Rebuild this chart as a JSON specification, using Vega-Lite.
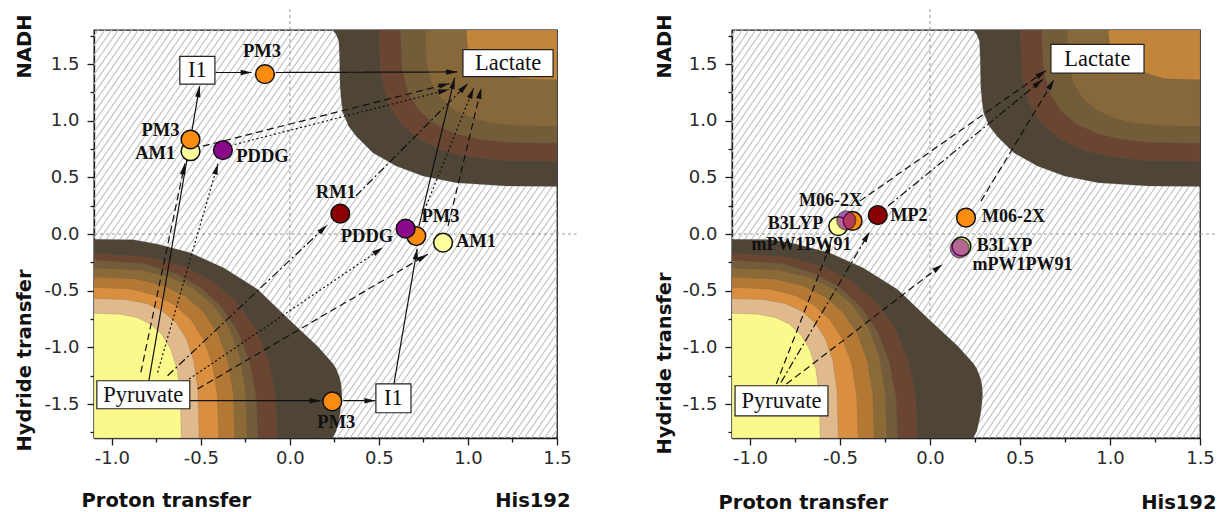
{
  "$schema": "https://vega.github.io/schema/vega-lite/v6.json",
  "background": "white",
  "padding": {"left": 13, "top": 7, "right": 0, "bottom": 0},
  "datasets": {
    "hatch": [{"x": -1.3, "y": 1.9, "x2": 1.8, "y2": -1.5}],
    "zero": [{"x": 0, "x2": 0, "y": -1.8, "y2": 1.99}, {"x": -1.1, "x2": 1.61, "y": 0, "y2": 0}],
    "contours": [
      {"b": "a", "x": -1.1, "y": -0.047, "y2": -1.8}, {"b": "a", "x": -0.88, "y": -0.05, "y2": -1.8}, {"b": "a", "x": -0.74, "y": -0.09, "y2": -1.8}, {"b": "a", "x": -0.56, "y": -0.165, "y2": -1.8}, {"b": "a", "x": -0.37, "y": -0.30, "y2": -1.8}, {"b": "a", "x": -0.18, "y": -0.49, "y2": -1.8}, {"b": "a", "x": 0.005, "y": -0.77, "y2": -1.8}, {"b": "a", "x": 0.155, "y": -0.99, "y2": -1.8}, {"b": "a", "x": 0.24, "y": -1.14, "y2": -1.8}, {"b": "a", "x": 0.26, "y": -1.19, "y2": -1.74}, {"b": "a", "x": 0.28, "y": -1.27, "y2": -1.6}, {"b": "a", "x": 0.288, "y": -1.33, "y2": -1.5}, {"b": "a", "x": 0.292, "y": -1.41, "y2": -1.42},
      {"b": "b", "x": -1.1, "y": -0.17, "y2": -1.8}, {"b": "b", "x": -0.791, "y": -0.203, "y2": -1.8}, {"b": "b", "x": -0.585, "y": -0.292, "y2": -1.8}, {"b": "b", "x": -0.43, "y": -0.419, "y2": -1.8}, {"b": "b", "x": -0.297, "y": -0.602, "y2": -1.8}, {"b": "b", "x": -0.194, "y": -0.83, "y2": -1.8}, {"b": "b", "x": -0.122, "y": -1.101, "y2": -1.8}, {"b": "b", "x": -0.08, "y": -1.428, "y2": -1.8}, {"b": "b", "x": -0.07, "y": -1.8, "y2": -1.8},
      {"b": "c", "x": -1.1, "y": -0.23, "y2": -1.8}, {"b": "c", "x": -0.824, "y": -0.261, "y2": -1.8}, {"b": "c", "x": -0.64, "y": -0.348, "y2": -1.8}, {"b": "c", "x": -0.502, "y": -0.47, "y2": -1.8}, {"b": "c", "x": -0.382, "y": -0.646, "y2": -1.8}, {"b": "c", "x": -0.29, "y": -0.866, "y2": -1.8}, {"b": "c", "x": -0.226, "y": -1.126, "y2": -1.8}, {"b": "c", "x": -0.189, "y": -1.442, "y2": -1.8}, {"b": "c", "x": -0.18, "y": -1.8, "y2": -1.8},
      {"b": "d", "x": -1.1, "y": -0.3, "y2": -1.8}, {"b": "d", "x": -0.842, "y": -0.318, "y2": -1.8}, {"b": "d", "x": -0.67, "y": -0.381, "y2": -1.8}, {"b": "d", "x": -0.541, "y": -0.478, "y2": -1.8}, {"b": "d", "x": -0.429, "y": -0.628, "y2": -1.8}, {"b": "d", "x": -0.343, "y": -0.823, "y2": -1.8}, {"b": "d", "x": -0.283, "y": -1.068, "y2": -1.8}, {"b": "d", "x": -0.249, "y": -1.383, "y2": -1.8}, {"b": "d", "x": -0.24, "y": -1.8, "y2": -1.8},
      {"b": "e", "x": -1.1, "y": -0.38, "y2": -1.8}, {"b": "e", "x": -0.863, "y": -0.397, "y2": -1.8}, {"b": "e", "x": -0.705, "y": -0.457, "y2": -1.8}, {"b": "e", "x": -0.587, "y": -0.549, "y2": -1.8}, {"b": "e", "x": -0.484, "y": -0.691, "y2": -1.8}, {"b": "e", "x": -0.405, "y": -0.876, "y2": -1.8}, {"b": "e", "x": -0.35, "y": -1.107, "y2": -1.8}, {"b": "e", "x": -0.318, "y": -1.405, "y2": -1.8}, {"b": "e", "x": -0.31, "y": -1.8, "y2": -1.8},
      {"b": "f", "x": -1.1, "y": -0.47, "y2": -1.8}, {"b": "f", "x": -0.89, "y": -0.486, "y2": -1.8}, {"b": "f", "x": -0.75, "y": -0.542, "y2": -1.8}, {"b": "f", "x": -0.645, "y": -0.628, "y2": -1.8}, {"b": "f", "x": -0.554, "y": -0.761, "y2": -1.8}, {"b": "f", "x": -0.484, "y": -0.934, "y2": -1.8}, {"b": "f", "x": -0.435, "y": -1.151, "y2": -1.8}, {"b": "f", "x": -0.407, "y": -1.43, "y2": -1.8}, {"b": "f", "x": -0.4, "y": -1.8, "y2": -1.8},
      {"b": "g", "x": -1.1, "y": -0.57, "y2": -1.8}, {"b": "g", "x": -0.923, "y": -0.579, "y2": -1.8}, {"b": "g", "x": -0.805, "y": -0.613, "y2": -1.8}, {"b": "g", "x": -0.717, "y": -0.677, "y2": -1.8}, {"b": "g", "x": -0.64, "y": -0.78, "y2": -1.8}, {"b": "g", "x": -0.581, "y": -0.925, "y2": -1.8}, {"b": "g", "x": -0.54, "y": -1.119, "y2": -1.8}, {"b": "g", "x": -0.516, "y": -1.382, "y2": -1.8}, {"b": "g", "x": -0.51, "y": -1.8, "y2": -1.8},
      {"b": "h", "x": -1.1, "y": -0.7, "y2": -1.8}, {"b": "h", "x": -0.953, "y": -0.708, "y2": -1.8}, {"b": "h", "x": -0.855, "y": -0.739, "y2": -1.8}, {"b": "h", "x": -0.782, "y": -0.796, "y2": -1.8}, {"b": "h", "x": -0.718, "y": -0.888, "y2": -1.8}, {"b": "h", "x": -0.669, "y": -1.018, "y2": -1.8}, {"b": "h", "x": -0.634, "y": -1.191, "y2": -1.8}, {"b": "h", "x": -0.615, "y": -1.426, "y2": -1.8}, {"b": "h", "x": -0.61, "y": -1.8, "y2": -1.8},
      {"b": "i", "x": 0.24, "y": 1.8, "y2": 1.8}, {"b": "i", "x": 0.26, "y": 1.76, "y2": 1.8}, {"b": "i", "x": 0.275, "y": 1.7, "y2": 1.8}, {"b": "i", "x": 0.279, "y": 1.55, "y2": 1.8}, {"b": "i", "x": 0.282, "y": 1.3, "y2": 1.8}, {"b": "i", "x": 0.29, "y": 1.16, "y2": 1.8}, {"b": "i", "x": 0.298, "y": 1.07, "y2": 1.8}, {"b": "i", "x": 0.33, "y": 0.95, "y2": 1.8}, {"b": "i", "x": 0.373, "y": 0.863, "y2": 1.8}, {"b": "i", "x": 0.466, "y": 0.716, "y2": 1.8}, {"b": "i", "x": 0.597, "y": 0.599, "y2": 1.8}, {"b": "i", "x": 0.747, "y": 0.511, "y2": 1.8}, {"b": "i", "x": 0.934, "y": 0.452, "y2": 1.8}, {"b": "i", "x": 1.215, "y": 0.423, "y2": 1.8}, {"b": "i", "x": 1.5, "y": 0.42, "y2": 1.8},
      {"b": "j", "x": 0.5, "y": 1.8, "y2": 1.8}, {"b": "j", "x": 0.51, "y": 1.406, "y2": 1.8}, {"b": "j", "x": 0.55, "y": 1.157, "y2": 1.8}, {"b": "j", "x": 0.62, "y": 0.975, "y2": 1.8}, {"b": "j", "x": 0.72, "y": 0.838, "y2": 1.8}, {"b": "j", "x": 0.85, "y": 0.741, "y2": 1.8}, {"b": "j", "x": 1.0, "y": 0.681, "y2": 1.8}, {"b": "j", "x": 1.2, "y": 0.648, "y2": 1.8}, {"b": "j", "x": 1.5, "y": 0.64, "y2": 1.8},
      {"b": "k", "x": 0.62, "y": 1.8, "y2": 1.8}, {"b": "k", "x": 0.629, "y": 1.46, "y2": 1.8}, {"b": "k", "x": 0.664, "y": 1.246, "y2": 1.8}, {"b": "k", "x": 0.726, "y": 1.089, "y2": 1.8}, {"b": "k", "x": 0.814, "y": 0.971, "y2": 1.8}, {"b": "k", "x": 0.928, "y": 0.887, "y2": 1.8}, {"b": "k", "x": 1.06, "y": 0.835, "y2": 1.8}, {"b": "k", "x": 1.236, "y": 0.807, "y2": 1.8}, {"b": "k", "x": 1.5, "y": 0.8, "y2": 1.8},
      {"b": "l", "x": 0.76, "y": 1.8, "y2": 1.8}, {"b": "l", "x": 0.767, "y": 1.511, "y2": 1.8}, {"b": "l", "x": 0.797, "y": 1.329, "y2": 1.8}, {"b": "l", "x": 0.849, "y": 1.196, "y2": 1.8}, {"b": "l", "x": 0.923, "y": 1.095, "y2": 1.8}, {"b": "l", "x": 1.019, "y": 1.024, "y2": 1.8}, {"b": "l", "x": 1.13, "y": 0.98, "y2": 1.8}, {"b": "l", "x": 1.278, "y": 0.956, "y2": 1.8}, {"b": "l", "x": 1.5, "y": 0.95, "y2": 1.8},
      {"b": "m", "x": 0.99, "y": 1.8, "y2": 1.8}, {"b": "m", "x": 1.0, "y": 1.62, "y2": 1.8}, {"b": "m", "x": 1.1, "y": 1.5, "y2": 1.8}, {"b": "m", "x": 1.2, "y": 1.42, "y2": 1.8}, {"b": "m", "x": 1.3, "y": 1.37, "y2": 1.8}, {"b": "m", "x": 1.5, "y": 1.36, "y2": 1.8}
    ],
    "arrowsL": [
      {"x": -0.792, "y": -1.295, "x2": -0.507, "y2": 1.304, "s": "solid"},
      {"x": -0.416, "y": 1.425, "x2": -0.215, "y2": 1.425, "s": "solid"},
      {"x": -0.08, "y": 1.425, "x2": 0.94, "y2": 1.43, "s": "solid"},
      {"x": -0.562, "y": -1.471, "x2": 0.172, "y2": -1.471, "s": "solid"},
      {"x": 0.3, "y": -1.471, "x2": 0.48, "y2": -1.471, "s": "solid"},
      {"x": 0.584, "y": -1.324, "x2": 0.715, "y2": -0.13, "s": "solid"},
      {"x": 0.725, "y": 0.07, "x2": 0.925, "y2": 1.377, "s": "solid"},
      {"x": -0.837, "y": -1.222, "x2": -0.59, "y2": 0.62, "s": "dashed"},
      {"x": -0.743, "y": -1.222, "x2": -0.404, "y2": 0.62, "s": "dotted"},
      {"x": -0.687, "y": -1.251, "x2": 0.21, "y2": 0.08, "s": "dashdot"},
      {"x": -0.566, "y": -1.28, "x2": 0.522, "y2": -0.12, "s": "dotted"},
      {"x": -0.519, "y": -1.368, "x2": 0.775, "y2": -0.179, "s": "dashed"},
      {"x": -0.489, "y": 0.775, "x2": 0.897, "y2": 1.328, "s": "dashed"},
      {"x": -0.31, "y": 0.79, "x2": 0.893, "y2": 1.275, "s": "dotted"},
      {"x": 0.37, "y": 0.335, "x2": 1.0, "y2": 1.328, "s": "dashdot"},
      {"x": 0.747, "y": 0.176, "x2": 1.032, "y2": 1.289, "s": "dotted"},
      {"x": 0.888, "y": 0.07, "x2": 1.075, "y2": 1.289, "s": "dashed"}
    ],
    "arrowsR": [
      {"x": -0.854, "y": -1.324, "x2": -0.55, "y2": -0.08, "s": "dashed"},
      {"x": -0.828, "y": -1.31, "x2": -0.335, "y2": 0.02, "s": "dashdot"},
      {"x": -0.798, "y": -1.324, "x2": 0.07, "y2": -0.267, "s": "dashed"},
      {"x": -0.39, "y": 0.29, "x2": 0.644, "y2": 1.442, "s": "dashed"},
      {"x": -0.233, "y": 0.247, "x2": 0.626, "y2": 1.363, "s": "dashdot"},
      {"x": 0.283, "y": 0.29, "x2": 0.69, "y2": 1.363, "s": "dashed"}
    ],
    "boxesL": [
      {"x": 0.972, "x2": 1.478, "y": 1.388, "y2": 1.626, "cx": 1.225, "cy": 1.507, "t": "Lactate"},
      {"x": -1.084, "x2": -0.562, "y": -1.542, "y2": -1.295, "cx": -0.823, "cy": -1.418, "t": "Pyruvate"},
      {"x": -0.618, "x2": -0.421, "y": 1.322, "y2": 1.568, "cx": -0.52, "cy": 1.445, "t": "I1"},
      {"x": 0.483, "x2": 0.68, "y": -1.577, "y2": -1.322, "cx": 0.581, "cy": -1.449, "t": "I1"}
    ],
    "boxesR": [
      {"x": 0.672, "x2": 1.189, "y": 1.419, "y2": 1.674, "cx": 0.93, "cy": 1.546, "t": "Lactate"},
      {"x": -1.083, "x2": -0.567, "y": -1.604, "y2": -1.339, "cx": -0.825, "cy": -1.471, "t": "Pyruvate"}
    ],
    "ptsL": [
      {"x": -0.558, "y": 0.73, "m": "AM1"}, {"x": -0.558, "y": 0.834, "m": "PM3"}, {"x": -0.376, "y": 0.74, "m": "PDDG"},
      {"x": -0.14, "y": 1.41, "m": "PM3"}, {"x": 0.283, "y": 0.179, "m": "RM1"}, {"x": 0.71, "y": -0.018, "m": "PM3"},
      {"x": 0.65, "y": 0.047, "m": "PDDG"}, {"x": 0.86, "y": -0.077, "m": "AM1"}, {"x": 0.238, "y": -1.477, "m": "PM3"}
    ],
    "ptsR": [
      {"x": -0.51, "y": 0.07, "m": "B3LYP"}, {"x": -0.43, "y": 0.115, "m": "M06-2X"}, {"x": -0.465, "y": 0.12, "m": "mPW1PW91"},
      {"x": -0.29, "y": 0.167, "m": "MP2"}, {"x": 0.175, "y": -0.11, "m": "B3LYP"}, {"x": 0.2, "y": 0.144, "m": "M06-2X"},
      {"x": 0.165, "y": -0.126, "m": "mPW1PW91"}
    ],
    "labelsL": [
      {"x": -0.157, "y": 1.612, "t": "PM3"}, {"x": -0.727, "y": 0.921, "t": "PM3"}, {"x": -0.756, "y": 0.718, "t": "AM1"},
      {"x": -0.154, "y": 0.687, "t": "PDDG"}, {"x": 0.258, "y": 0.37, "t": "RM1"}, {"x": 0.433, "y": -0.018, "t": "PDDG"},
      {"x": 0.846, "y": 0.159, "t": "PM3"}, {"x": 1.045, "y": -0.066, "t": "AM1"}, {"x": 0.261, "y": -1.66, "t": "PM3"}
    ],
    "labelsR": [
      {"x": -0.553, "y": 0.291, "t": "M06-2X"}, {"x": -0.747, "y": 0.084, "t": "B3LYP"}, {"x": -0.714, "y": -0.101, "t": "mPW1PW91"},
      {"x": -0.117, "y": 0.159, "t": "MP2"}, {"x": 0.464, "y": 0.154, "t": "M06-2X"}, {"x": 0.414, "y": -0.105, "t": "B3LYP"},
      {"x": 0.514, "y": -0.275, "t": "mPW1PW91"}
    ]
  },
  "hconcat": [
    {
      "width": 463, "height": 408,
      "layer": [
        {"data": {"name": "hatch"},
         "mark": {"type": "rule", "clip": true, "stroke": "#c4c4c4", "strokeWidth": 760, "strokeDash": [1.2, 4.3], "strokeCap": "butt"},
         "encoding": {
           "x": {"field": "x", "type": "quantitative", "scale": {"domain": [-1.1, 1.5], "nice": false, "zero": false},
                 "axis": {"values": [-1, -0.5, 0, 0.5, 1, 1.5], "tickSize": 7, "labelPadding": 4, "labelFlush": false, "labelOverlap": false,
                          "labelExpr": "datum.value < 0 ? '-' + format(-datum.value, '.1f') : format(datum.value, '.1f')",
                          "title": "Proton transfer", "titleX": -13, "titleY": 68, "titleAlign": "left", "titleBaseline": "alphabetic"}},
           "y": {"field": "y", "type": "quantitative", "scale": {"domain": [-1.8, 1.8], "nice": false, "zero": false},
                 "axis": {"values": [-1.5, -1, -0.5, 0, 0.5, 1, 1.5], "tickSize": 7, "labelPadding": 8, "labelFlush": false, "labelOverlap": false,
                          "labelExpr": "datum.value < 0 ? '-' + format(-datum.value, '.1f') : format(datum.value, '.1f')",
                          "title": "Hydride transfer", "titleX": -64, "titleY": 421, "titleAlign": "left", "titleAngle": -90, "titleBaseline": "alphabetic"}},
           "x2": {"field": "x2"}, "y2": {"field": "y2"}}},
        {"data": {"name": "zero"},
         "mark": {"type": "rule", "stroke": "#8c8c8c", "strokeWidth": 0.9, "strokeDash": [3, 3]},
         "encoding": {
           "x": {"field": "x", "type": "quantitative", "scale": {"domain": [-1.1, 1.5], "nice": false, "zero": false},
                 "axis": {"orient": "bottom", "values": [-0.75, -0.25, 0.25, 0.75, 1.25], "tickSize": 4, "labels": false, "domain": false,
                          "title": "His192", "titleX": 476, "titleY": 68, "titleAlign": "right", "titleBaseline": "alphabetic"}},
           "y": {"field": "y", "type": "quantitative", "scale": {"domain": [-1.8, 1.8], "nice": false, "zero": false},
                 "axis": {"orient": "left", "values": [-1.75, -1.25, -0.75, -0.25, 0.25, 0.75, 1.25, 1.75], "tickSize": 4, "labels": false, "domain": false,
                          "title": "NADH", "titleX": -64, "titleY": -16, "titleAlign": "right", "titleAngle": -90, "titleBaseline": "alphabetic"}},
           "x2": {"field": "x2"}, "y2": {"field": "y2"}}},
        {"data": {"name": "contours"},
         "mark": {"type": "area", "orient": "vertical", "stroke": "#5a5a5a", "strokeWidth": 0.4, "strokeOpacity": 0.5},
         "encoding": {
           "x": {"field": "x", "type": "quantitative", "axis": null},
           "y": {"field": "y", "type": "quantitative", "axis": null, "stack": null},
           "y2": {"field": "y2"},
           "color": {"field": "b", "type": "nominal", "legend": null,
                     "scale": {"domain": ["a","b","c","d","e","f","g","h","i","j","k","l","m"],
                               "range": ["#4e4536","#6a4632","#725c39","#8b6a38","#b47835","#d98f3f","#e0b98d","#fbf98b","#4e4536","#6a4632","#735d39","#87683a","#c2853a"]}}}},
        {"data": {"name": "arrowsL"},
         "mark": {"type": "rule", "stroke": "#111", "strokeWidth": 1.2},
         "encoding": {
           "x": {"field": "x", "type": "quantitative", "axis": null}, "y": {"field": "y", "type": "quantitative", "axis": null},
           "x2": {"field": "x2"}, "y2": {"field": "y2"},
           "strokeDash": {"field": "s", "type": "nominal", "legend": null,
                          "scale": {"domain": ["solid","dashed","dotted","dashdot"], "range": [[1,0],[7,4],[2,2.5],[8,3,2,3]]}}}},
        {"data": {"name": "arrowsL"},
         "transform": [{"calculate": "atan2((datum.x2 - datum.x) * 178.1, (datum.y2 - datum.y) * 113.3) * 180 / PI", "as": "ang"}],
         "mark": {"type": "point", "shape": "M0,0L0.5,2L-0.5,2Z", "filled": true, "color": "#111", "size": 120, "opacity": 1},
         "encoding": {
           "x": {"field": "x2", "type": "quantitative", "axis": null}, "y": {"field": "y2", "type": "quantitative", "axis": null},
           "angle": {"field": "ang", "type": "quantitative", "scale": null}}},
        {"data": {"name": "boxesL"},
         "mark": {"type": "rect", "fill": "white", "stroke": "#222", "strokeWidth": 1.2},
         "encoding": {
           "x": {"field": "x", "type": "quantitative", "axis": null}, "y": {"field": "y", "type": "quantitative", "axis": null},
           "x2": {"field": "x2"}, "y2": {"field": "y2"}}},
        {"data": {"name": "boxesL"},
         "mark": {"type": "text", "font": "Liberation Serif", "fontSize": 22.5, "color": "#111", "align": "center", "baseline": "middle"},
         "encoding": {
           "x": {"field": "cx", "type": "quantitative", "axis": null}, "y": {"field": "cy", "type": "quantitative", "axis": null},
           "text": {"field": "t"}}},
        {"data": {"name": "ptsL"},
         "mark": {"type": "point", "shape": "circle", "filled": true, "size": 350, "stroke": "#111", "strokeWidth": 1.5, "opacity": 1},
         "encoding": {
           "x": {"field": "x", "type": "quantitative", "axis": null}, "y": {"field": "y", "type": "quantitative", "axis": null},
           "fill": {"field": "m", "type": "nominal", "legend": null,
                    "scale": {"domain": ["AM1","PM3","PDDG","RM1"], "range": ["#ffff9e","#fb8c10","#8b0a8b","#8b0000"]}}}},
        {"data": {"name": "labelsL"},
         "mark": {"type": "text", "font": "Liberation Serif", "fontWeight": "bold", "fontSize": 18.5, "color": "#111", "align": "center", "baseline": "middle"},
         "encoding": {
           "x": {"field": "x", "type": "quantitative", "axis": null}, "y": {"field": "y", "type": "quantitative", "axis": null},
           "text": {"field": "t"}}}
      ],
      "resolve": {"axis": {"x": "independent", "y": "independent"}}
    },
    {
      "width": 468, "height": 408,
      "layer": [
        {"data": {"name": "hatch"},
         "mark": {"type": "rule", "clip": true, "stroke": "#c4c4c4", "strokeWidth": 760, "strokeDash": [1.2, 4.3], "strokeCap": "butt"},
         "encoding": {
           "x": {"field": "x", "type": "quantitative", "scale": {"domain": [-1.1, 1.5], "nice": false, "zero": false},
                 "axis": {"values": [-1, -0.5, 0, 0.5, 1, 1.5], "tickSize": 7, "labelPadding": 4, "labelFlush": false, "labelOverlap": false,
                          "labelExpr": "datum.value < 0 ? '-' + format(-datum.value, '.1f') : format(datum.value, '.1f')",
                          "title": "Proton transfer", "titleX": -14, "titleY": 70, "titleAlign": "left", "titleBaseline": "alphabetic"}},
           "y": {"field": "y", "type": "quantitative", "scale": {"domain": [-1.8, 1.8], "nice": false, "zero": false},
                 "axis": {"values": [-1.5, -1, -0.5, 0, 0.5, 1, 1.5], "tickSize": 7, "labelPadding": 8, "labelFlush": false, "labelOverlap": false,
                          "labelExpr": "datum.value < 0 ? '-' + format(-datum.value, '.1f') : format(datum.value, '.1f')",
                          "title": "Hydride transfer", "titleX": -62, "titleY": 424, "titleAlign": "left", "titleAngle": -90, "titleBaseline": "alphabetic"}},
           "x2": {"field": "x2"}, "y2": {"field": "y2"}}},
        {"data": {"name": "zero"},
         "mark": {"type": "rule", "stroke": "#8c8c8c", "strokeWidth": 0.9, "strokeDash": [3, 3]},
         "encoding": {
           "x": {"field": "x", "type": "quantitative", "scale": {"domain": [-1.1, 1.5], "nice": false, "zero": false},
                 "axis": {"orient": "bottom", "values": [-0.75, -0.25, 0.25, 0.75, 1.25], "tickSize": 4, "labels": false, "domain": false,
                          "title": "His192", "titleX": 484, "titleY": 70, "titleAlign": "right", "titleBaseline": "alphabetic"}},
           "y": {"field": "y", "type": "quantitative", "scale": {"domain": [-1.8, 1.8], "nice": false, "zero": false},
                 "axis": {"orient": "left", "values": [-1.75, -1.25, -0.75, -0.25, 0.25, 0.75, 1.25, 1.75], "tickSize": 4, "labels": false, "domain": false,
                          "title": "NADH", "titleX": -62, "titleY": -16, "titleAlign": "right", "titleAngle": -90, "titleBaseline": "alphabetic"}},
           "x2": {"field": "x2"}, "y2": {"field": "y2"}}},
        {"data": {"name": "contours"},
         "mark": {"type": "area", "orient": "vertical", "stroke": "#5a5a5a", "strokeWidth": 0.4, "strokeOpacity": 0.5},
         "encoding": {
           "x": {"field": "x", "type": "quantitative", "axis": null},
           "y": {"field": "y", "type": "quantitative", "axis": null, "stack": null},
           "y2": {"field": "y2"},
           "color": {"field": "b", "type": "nominal", "legend": null,
                     "scale": {"domain": ["a","b","c","d","e","f","g","h","i","j","k","l","m"],
                               "range": ["#4e4536","#6a4632","#725c39","#8b6a38","#b47835","#d98f3f","#e0b98d","#fbf98b","#4e4536","#6a4632","#735d39","#87683a","#c2853a"]}}}},
        {"data": {"name": "arrowsR"},
         "mark": {"type": "rule", "stroke": "#111", "strokeWidth": 1.2},
         "encoding": {
           "x": {"field": "x", "type": "quantitative", "axis": null}, "y": {"field": "y", "type": "quantitative", "axis": null},
           "x2": {"field": "x2"}, "y2": {"field": "y2"},
           "strokeDash": {"field": "s", "type": "nominal", "legend": null,
                          "scale": {"domain": ["solid","dashed","dotted","dashdot"], "range": [[1,0],[7,4],[2,2.5],[8,3,2,3]]}}}},
        {"data": {"name": "arrowsR"},
         "transform": [{"calculate": "atan2((datum.x2 - datum.x) * 180, (datum.y2 - datum.y) * 113.3) * 180 / PI", "as": "ang"}],
         "mark": {"type": "point", "shape": "M0,0L0.5,2L-0.5,2Z", "filled": true, "color": "#111", "size": 120, "opacity": 1},
         "encoding": {
           "x": {"field": "x2", "type": "quantitative", "axis": null}, "y": {"field": "y2", "type": "quantitative", "axis": null},
           "angle": {"field": "ang", "type": "quantitative", "scale": null}}},
        {"data": {"name": "boxesR"},
         "mark": {"type": "rect", "fill": "white", "stroke": "#222", "strokeWidth": 1.2},
         "encoding": {
           "x": {"field": "x", "type": "quantitative", "axis": null}, "y": {"field": "y", "type": "quantitative", "axis": null},
           "x2": {"field": "x2"}, "y2": {"field": "y2"}}},
        {"data": {"name": "boxesR"},
         "mark": {"type": "text", "font": "Liberation Serif", "fontSize": 22.5, "color": "#111", "align": "center", "baseline": "middle"},
         "encoding": {
           "x": {"field": "cx", "type": "quantitative", "axis": null}, "y": {"field": "cy", "type": "quantitative", "axis": null},
           "text": {"field": "t"}}},
        {"data": {"name": "ptsR"},
         "mark": {"type": "point", "shape": "circle", "filled": true, "size": 350, "stroke": "#111", "strokeWidth": 1.5},
         "encoding": {
           "x": {"field": "x", "type": "quantitative", "axis": null}, "y": {"field": "y", "type": "quantitative", "axis": null},
           "fill": {"field": "m", "type": "nominal", "legend": null,
                    "scale": {"domain": ["B3LYP","M06-2X","mPW1PW91","MP2"], "range": ["#ffff9e","#fb8c10","#9c1e90","#8b0000"]}},
           "opacity": {"condition": {"test": "datum.m === 'mPW1PW91'", "value": 0.62}, "value": 1}}},
        {"data": {"name": "labelsR"},
         "mark": {"type": "text", "font": "Liberation Serif", "fontWeight": "bold", "fontSize": 18, "color": "#111", "align": "center", "baseline": "middle"},
         "encoding": {
           "x": {"field": "x", "type": "quantitative", "axis": null}, "y": {"field": "y", "type": "quantitative", "axis": null},
           "text": {"field": "t"}}}
      ],
      "resolve": {"axis": {"x": "independent", "y": "independent"}}
    }
  ],
  "spacing": 175,
  "bounds": "flush",
  "config": {
    "view": {"stroke": "#1a1a1a", "strokeWidth": 1.3},
    "axis": {"domainColor": "#1a1a1a", "domainWidth": 1.3, "tickColor": "#1a1a1a", "tickWidth": 1.3, "grid": false,
             "labelFont": "DejaVu Sans", "labelFontSize": 18, "labelColor": "#2a2a2a",
             "titleFont": "DejaVu Sans", "titleFontSize": 19.5, "titleFontWeight": "bold", "titleColor": "#111"}
  }
}
